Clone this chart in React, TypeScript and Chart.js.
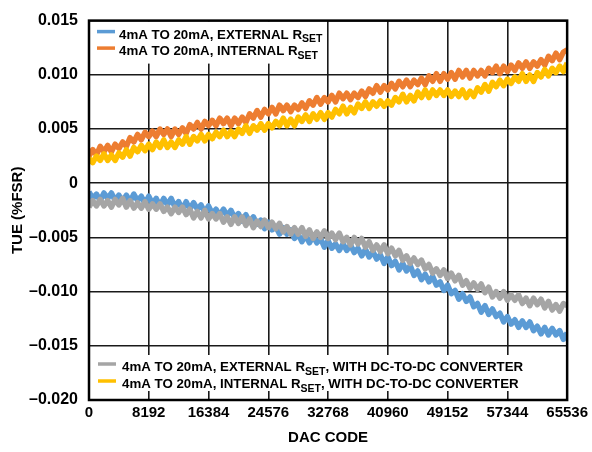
import React, { useEffect, useRef } from 'react';
import { Chart, registerables } from 'chart.js';

Chart.register(...registerables);

// ---- Data -----------------------------------------------------------------
const X_TICKS = [0, 8192, 16384, 24576, 32768, 40960, 49152, 57344, 65536];
const Y_TICKS = [-0.02, -0.015, -0.01, -0.005, 0, 0.005, 0.01, 0.015];
const Y_TICK_LABELS = ['–0.020', '–0.015', '–0.010', '–0.005', '0', '0.005', '0.010', '0.015'];
const CODE_STEP = 512; // DAC code spacing between samples

const EXT_RSET = [
  -0.0008, -0.0014, -0.0010, -0.0016, -0.0009, -0.0014, -0.0009, -0.0016,
  -0.0011, -0.0017, -0.0011, -0.0017, -0.0010, -0.0016, -0.0012, -0.0019,
  -0.0012, -0.0019, -0.0014, -0.0021, -0.0014, -0.0020, -0.0014, -0.0022,
  -0.0017, -0.0024, -0.0017, -0.0024, -0.0018, -0.0024, -0.0020, -0.0027,
  -0.0021, -0.0028, -0.0024, -0.0030, -0.0024, -0.0030, -0.0025, -0.0032,
  -0.0028, -0.0035, -0.0029, -0.0036, -0.0031, -0.0038, -0.0034, -0.0042,
  -0.0036, -0.0043, -0.0040, -0.0047, -0.0041, -0.0047, -0.0043, -0.0051,
  -0.0047, -0.0054, -0.0048, -0.0055, -0.0049, -0.0055, -0.0051, -0.0059,
  -0.0053, -0.0060, -0.0056, -0.0062, -0.0056, -0.0062, -0.0057, -0.0064,
  -0.0060, -0.0067, -0.0061, -0.0068, -0.0063, -0.0070, -0.0066, -0.0074,
  -0.0068, -0.0076, -0.0072, -0.0080, -0.0074, -0.0081, -0.0076, -0.0085,
  -0.0081, -0.0089, -0.0084, -0.0091, -0.0086, -0.0094, -0.0091, -0.0099,
  -0.0094, -0.0102, -0.0099, -0.0107, -0.0102, -0.0109, -0.0105, -0.0114,
  -0.0111, -0.0119, -0.0113, -0.0121, -0.0116, -0.0123, -0.0120, -0.0128,
  -0.0123, -0.0130, -0.0126, -0.0133, -0.0127, -0.0133, -0.0128, -0.0136,
  -0.0132, -0.0139, -0.0133, -0.0140, -0.0134, -0.0140, -0.0136, -0.0144,
  -0.0138,
];

const INT_RSET = [
  0.0025, 0.0031, 0.0026, 0.0034, 0.0029, 0.0035, 0.0029, 0.0036,
  0.0032, 0.0038, 0.0034, 0.0042, 0.0038, 0.0045, 0.0040, 0.0047,
  0.0043, 0.0048, 0.0043, 0.0050, 0.0045, 0.0050, 0.0043, 0.0050,
  0.0045, 0.0051, 0.0046, 0.0054, 0.0050, 0.0056, 0.0050, 0.0057,
  0.0053, 0.0058, 0.0053, 0.0060, 0.0055, 0.0060, 0.0053, 0.0060,
  0.0055, 0.0061, 0.0056, 0.0064, 0.0060, 0.0067, 0.0061, 0.0068,
  0.0064, 0.0070, 0.0064, 0.0072, 0.0067, 0.0072, 0.0066, 0.0072,
  0.0068, 0.0074, 0.0069, 0.0076, 0.0072, 0.0079, 0.0073, 0.0079,
  0.0075, 0.0081, 0.0075, 0.0083, 0.0078, 0.0083, 0.0077, 0.0083,
  0.0079, 0.0085, 0.0080, 0.0087, 0.0083, 0.0090, 0.0084, 0.0090,
  0.0086, 0.0092, 0.0087, 0.0094, 0.0089, 0.0095, 0.0089, 0.0095,
  0.0091, 0.0097, 0.0091, 0.0099, 0.0094, 0.0101, 0.0094, 0.0101,
  0.0096, 0.0102, 0.0096, 0.0104, 0.0098, 0.0104, 0.0097, 0.0104,
  0.0099, 0.0104, 0.0099, 0.0106, 0.0102, 0.0108, 0.0101, 0.0108,
  0.0103, 0.0109, 0.0104, 0.0111, 0.0106, 0.0112, 0.0106, 0.0112,
  0.0108, 0.0114, 0.0109, 0.0117, 0.0113, 0.0120, 0.0114, 0.0121,
  0.0123,
];

const EXT_RSET_DCDC = [
  -0.0022, -0.0016, -0.0021, -0.0015, -0.0021, -0.0016, -0.0022, -0.0015,
  -0.0020, -0.0014, -0.0022, -0.0016, -0.0023, -0.0018, -0.0023, -0.0017,
  -0.0024, -0.0019, -0.0024, -0.0019, -0.0026, -0.0022, -0.0028, -0.0022,
  -0.0027, -0.0022, -0.0029, -0.0024, -0.0032, -0.0026, -0.0032, -0.0025,
  -0.0033, -0.0028, -0.0033, -0.0028, -0.0036, -0.0031, -0.0038, -0.0031,
  -0.0037, -0.0031, -0.0039, -0.0033, -0.0041, -0.0035, -0.0040, -0.0034,
  -0.0041, -0.0036, -0.0042, -0.0037, -0.0045, -0.0040, -0.0047, -0.0041,
  -0.0047, -0.0041, -0.0049, -0.0043, -0.0051, -0.0045, -0.0050, -0.0044,
  -0.0051, -0.0046, -0.0052, -0.0046, -0.0054, -0.0050, -0.0057, -0.0050,
  -0.0056, -0.0051, -0.0059, -0.0054, -0.0062, -0.0057, -0.0063, -0.0057,
  -0.0065, -0.0060, -0.0067, -0.0062, -0.0071, -0.0067, -0.0074, -0.0069,
  -0.0075, -0.0071, -0.0079, -0.0075, -0.0083, -0.0079, -0.0085, -0.0080,
  -0.0088, -0.0083, -0.0090, -0.0085, -0.0094, -0.0090, -0.0097, -0.0092,
  -0.0098, -0.0093, -0.0101, -0.0096, -0.0105, -0.0100, -0.0106, -0.0100,
  -0.0108, -0.0103, -0.0108, -0.0103, -0.0111, -0.0106, -0.0113, -0.0106,
  -0.0112, -0.0107, -0.0115, -0.0109, -0.0117, -0.0112, -0.0118, -0.0111,
  -0.0113,
];

const INT_RSET_DCDC = [
  0.0023, 0.0019, 0.0025, 0.0021, 0.0027, 0.0021, 0.0026, 0.0021,
  0.0028, 0.0024, 0.0031, 0.0025, 0.0033, 0.0029, 0.0035, 0.0030,
  0.0036, 0.0031, 0.0038, 0.0033, 0.0040, 0.0033, 0.0038, 0.0033,
  0.0040, 0.0036, 0.0043, 0.0036, 0.0043, 0.0039, 0.0045, 0.0039,
  0.0045, 0.0041, 0.0047, 0.0043, 0.0049, 0.0043, 0.0048, 0.0043,
  0.0050, 0.0046, 0.0053, 0.0046, 0.0053, 0.0049, 0.0055, 0.0049,
  0.0055, 0.0051, 0.0057, 0.0053, 0.0060, 0.0053, 0.0059, 0.0053,
  0.0061, 0.0057, 0.0063, 0.0057, 0.0064, 0.0059, 0.0065, 0.0059,
  0.0065, 0.0061, 0.0068, 0.0064, 0.0071, 0.0064, 0.0070, 0.0065,
  0.0073, 0.0069, 0.0075, 0.0069, 0.0075, 0.0071, 0.0076, 0.0071,
  0.0076, 0.0072, 0.0079, 0.0075, 0.0082, 0.0075, 0.0081, 0.0076,
  0.0084, 0.0079, 0.0086, 0.0079, 0.0086, 0.0081, 0.0086, 0.0081,
  0.0086, 0.0080, 0.0085, 0.0080, 0.0086, 0.0079, 0.0085, 0.0080,
  0.0088, 0.0084, 0.0091, 0.0085, 0.0093, 0.0089, 0.0095, 0.0090,
  0.0096, 0.0092, 0.0098, 0.0094, 0.0101, 0.0094, 0.0100, 0.0094,
  0.0102, 0.0098, 0.0105, 0.0099, 0.0106, 0.0102, 0.0108, 0.0103,
  0.0111,
];

const SERIES_NAMES = [
  { pre: '4mA TO 20mA, EXTERNAL R', sub: 'SET', post: '' },
  { pre: '4mA TO 20mA, INTERNAL R', sub: 'SET', post: '' },
  { pre: '4mA TO 20mA, EXTERNAL R', sub: 'SET', post: ', WITH DC-TO-DC CONVERTER' },
  { pre: '4mA TO 20mA, INTERNAL R', sub: 'SET', post: ', WITH DC-TO-DC CONVERTER' },
];
const COLORS = ['#5B9BD5', '#ED7D31', '#A5A5A5', '#FFC000'];

// ---- Styling --------------------------------------------------------------
const FONT = "'Liberation Sans', Arial, sans-serif";

const toPoints = (vals: number[]) => vals.map((y, i) => ({ x: i * CODE_STEP, y }));

function drawLegendEntry(
  ctx: CanvasRenderingContext2D,
  x: number,
  baseline: number,
  color: string,
  name: { pre: string; sub: string; post: string },
  swatchW: number,
  swatchGap: number
) {
  ctx.strokeStyle = color;
  ctx.lineWidth = 3.5;
  ctx.beginPath();
  ctx.moveTo(x, baseline - 7);
  ctx.lineTo(x + swatchW, baseline - 7);
  ctx.stroke();
  let tx = x + swatchW + swatchGap;
  ctx.fillStyle = '#000';
  ctx.textBaseline = 'alphabetic';
  ctx.textAlign = 'left';
  ctx.font = `bold 13.3px ${FONT}`;
  ctx.fillText(name.pre, tx, baseline);
  tx += ctx.measureText(name.pre).width;
  ctx.font = `bold 10.5px ${FONT}`;
  ctx.fillText(name.sub, tx, baseline + 3.5);
  tx += ctx.measureText(name.sub).width;
  if (name.post) {
    ctx.font = `bold 13.3px ${FONT}`;
    ctx.fillText(name.post, tx, baseline);
  }
}

const legendPlugin = {
  id: 'customLegend',
  afterDatasetsDraw(chart: any) {
    const { ctx, chartArea: a } = chart;
    ctx.save();
    ctx.fillStyle = '#fff';
    ctx.fillRect(a.left + 1, a.top + 1, 237, 42);
    ctx.fillRect(a.left + 1, a.bottom - 45, 446, 36);
    drawLegendEntry(ctx, a.left + 8, a.top + 18, COLORS[0], SERIES_NAMES[0], 18, 4);
    drawLegendEntry(ctx, a.left + 8, a.top + 34.5, COLORS[1], SERIES_NAMES[1], 18, 4);
    drawLegendEntry(ctx, a.left + 9, a.bottom - 29, COLORS[2], SERIES_NAMES[2], 18, 6);
    drawLegendEntry(ctx, a.left + 9, a.bottom - 12, COLORS[3], SERIES_NAMES[3], 18, 6);
    ctx.restore();
  },
  afterDraw(chart: any) {
    const { ctx, chartArea: a } = chart;
    ctx.save();
    ctx.strokeStyle = '#000';
    ctx.lineWidth = 2.5;
    ctx.strokeRect(a.left, a.top, a.right - a.left, a.bottom - a.top);
    ctx.restore();
  },
};

export default function App() {
  const canvasRef = useRef<HTMLCanvasElement | null>(null);

  useEffect(() => {
    if (!canvasRef.current) return;
    const seriesData = [EXT_RSET, INT_RSET, EXT_RSET_DCDC, INT_RSET_DCDC];
    const orders = [2, 2, 1, 1];
    const chart = new Chart(canvasRef.current, {
      type: 'line',
      data: {
        datasets: seriesData.map((vals, i) => ({
          label: SERIES_NAMES[i].pre + SERIES_NAMES[i].sub + SERIES_NAMES[i].post,
          data: toPoints(vals),
          borderColor: COLORS[i],
          backgroundColor: COLORS[i],
          borderWidth: 5.5,
          pointRadius: 0,
          tension: 0,
          borderJoinStyle: 'round' as const,
          order: orders[i],
        })),
      },
      options: {
        animation: false,
        responsive: false,
        devicePixelRatio: 1,
        parsing: false as any,
        layout: { padding: { top: 15, right: 24, left: 0, bottom: 0 } },
        plugins: {
          legend: { display: false },
          tooltip: { enabled: false },
        },
        scales: {
          x: {
            type: 'linear',
            min: 0,
            max: 65536,
            afterBuildTicks: (scale: any) => {
              scale.ticks = X_TICKS.map((v) => ({ value: v }));
            },
            afterFit: (scale: any) => {
              scale.height = 52;
            },
            ticks: {
              color: '#000',
              padding: 4,
              maxRotation: 0,
              autoSkip: false,
              font: { family: FONT, size: 15, weight: 'bold' },
              callback: (v: any) => String(v),
            },
            grid: { color: '#1a1a1a', lineWidth: 1.6, drawTicks: false },
            border: { display: false },
            title: {
              display: true,
              text: 'DAC CODE',
              color: '#000',
              font: { family: FONT, size: 15, weight: 'bold' },
              padding: { top: 0, bottom: 5 },
            },
          },
          y: {
            type: 'linear',
            min: -0.02,
            max: 0.015,
            afterBuildTicks: (scale: any) => {
              scale.ticks = Y_TICKS.map((v) => ({ value: v }));
            },
            afterFit: (scale: any) => {
              scale.width = 89;
            },
            ticks: {
              color: '#000',
              padding: 11,
              autoSkip: false,
              font: { family: FONT, size: 16, weight: 'bold' },
              callback: (v: any) => {
                let best = 0;
                Y_TICKS.forEach((t, i) => {
                  if (Math.abs(t - v) < Math.abs(Y_TICKS[best] - v)) best = i;
                });
                return Y_TICK_LABELS[best];
              },
            },
            grid: { color: '#1a1a1a', lineWidth: 1.6, drawTicks: false },
            border: { display: false },
            title: {
              display: true,
              text: 'TUE (%FSR)',
              color: '#000',
              font: { family: FONT, size: 15, weight: 'bold' },
              padding: { top: 9, bottom: 0 },
            },
          },
        },
      },
      plugins: [legendPlugin],
    } as any);
    return () => chart.destroy();
  }, []);

  return (
    <div style={{ position: 'absolute', left: 0, top: 0, width: 592, height: 452, background: '#fff' }}>
      <canvas ref={canvasRef} width={592} height={452} style={{ display: 'block' }} />
    </div>
  );
}
